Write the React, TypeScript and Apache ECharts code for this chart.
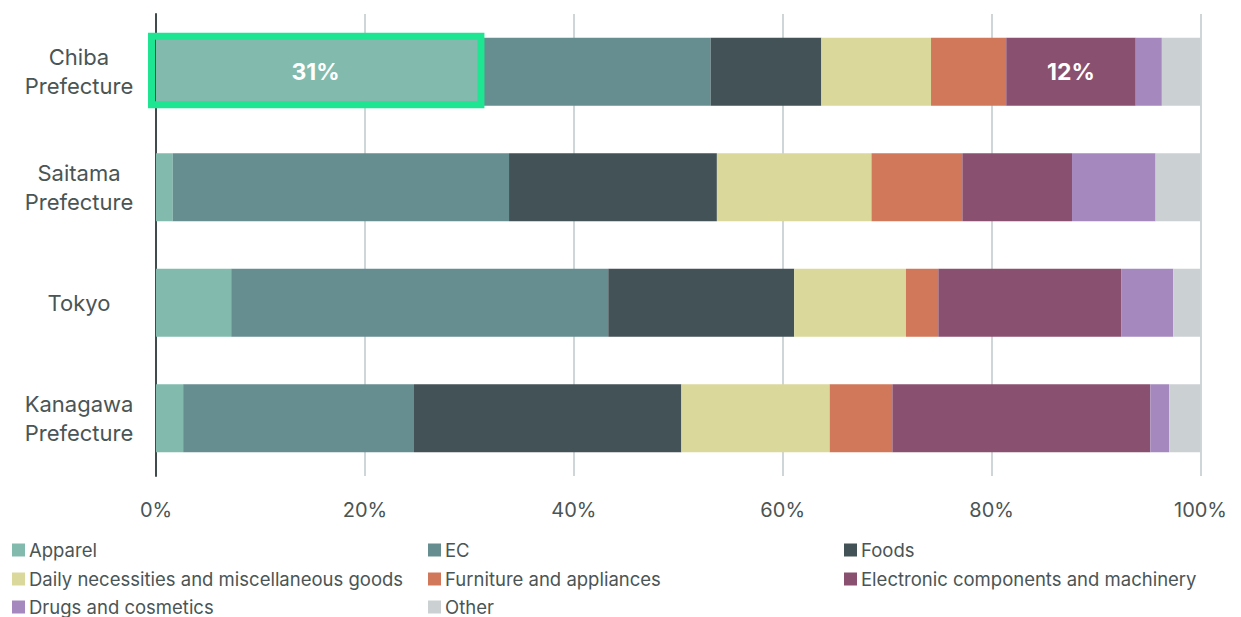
import React, { useEffect, useRef } from "react";
import * as echarts from "echarts";

const categories = ["Chiba Prefecture", "Saitama Prefecture", "Tokyo", "Kanagawa Prefecture"];
const seriesNames = [
  "Apparel",
  "EC",
  "Foods",
  "Daily necessities and miscellaneous goods",
  "Furniture and appliances",
  "Electronic components and machinery",
  "Drugs and cosmetics",
  "Other",
];
const apparel = [31.3, 1.6, 7.2, 2.6];
const ec = [21.8, 32.2, 36.1, 22.1];
const foods = [10.6, 19.9, 17.8, 25.6];
const daily = [10.5, 14.8, 10.7, 14.2];
const furniture = [7.2, 8.7, 3.1, 6.0];
const electronic = [12.4, 10.5, 17.5, 24.7];
const drugs = [2.5, 8.0, 5.0, 1.8];
const other = [3.7, 4.3, 2.6, 3.0];
const seriesValues = [apparel, ec, foods, daily, furniture, electronic, drugs, other];
const colors = ["#82bbad", "#668e91", "#435257", "#dbd89c", "#d2785a", "#8a5070", "#a488be", "#cbd1d3"];
// which (series, category) cells carry a value label
const labelled: [number, number][] = [
  [0, 0],
  [5, 0],
];
const xTicks = [0, 20, 40, 60, 80, 100];
// legend grid: [column, row] for each series
const legendCells: [number, number][] = [
  [0, 0],
  [1, 0],
  [2, 0],
  [0, 1],
  [1, 1],
  [2, 1],
  [0, 2],
  [1, 2],
];

const FONT = "Inter, 'Noto Sans', sans-serif";
const TEXT = "#4a5555";

export default function App() {
  const ref = useRef<HTMLDivElement>(null);
  useEffect(() => {
    if (!ref.current) return;
    const chart = echarts.init(ref.current, undefined, { renderer: "svg" });
    const series = seriesNames.map((name, si) => ({
      name,
      type: "bar",
      stack: "total",
      barWidth: 68,
      itemStyle: { color: colors[si] },
      data: seriesValues[si].map((v, ci) => {
        const lab = labelled.some(([s, c]) => s === si && c === ci);
        return lab
          ? {
              value: v,
              label: {
                show: true,
                position: "inside",
                offset: si === 0 ? [-4, 0] : [0, 0],
                formatter: (p: any) => Math.round(p.value) + "%",
                color: "#ffffff",
                fontSize: 23,
                fontWeight: "bold",
                fontFamily: FONT,
              },
            }
          : v;
      }),
    }));
    const colLefts = [12, 428, 844];
    const rowTops = [540, 569, 597];
    chart.setOption({
      animation: false,
      textStyle: { fontFamily: FONT },
      grid: { left: 156, right: 40.5, top: 14, bottom: 141, containLabel: false },
      legend: seriesNames.map((name, i) => ({
        data: [name],
        orient: "horizontal",
        left: colLefts[legendCells[i][0]],
        top: rowTops[legendCells[i][1]],
        padding: 0,
        itemWidth: 13,
        itemHeight: 13,
        itemGap: 0,
        icon: "rect",
        selectedMode: false,
        textStyle: { color: TEXT, fontSize: 18.5, fontFamily: FONT, lineHeight: 20, padding: [0, 0, 0, -1] },
      })),
      xAxis: {
        type: "value",
        min: 0,
        max: 100,
        interval: 20,
        axisLine: { show: false },
        axisTick: { show: false },
        splitLine: { show: true, lineStyle: { color: "#cfd6d8", width: 2 } },
        axisLabel: {
          color: TEXT,
          fontSize: 20,
          margin: 24,
          fontFamily: FONT,
          formatter: (v: number) => (xTicks.includes(v) ? v + "%" : ""),
        },
      },
      yAxis: {
        type: "category",
        inverse: true,
        data: categories,
        axisLine: { show: true, lineStyle: { color: "#3f4b4d", width: 2 } },
        axisTick: { show: false },
        axisLabel: {
          color: TEXT,
          fontSize: 22,
          lineHeight: 29,
          align: "center",
          margin: 77,
          fontFamily: FONT,
          formatter: (v: string) => v.replace(" ", "\n"),
        },
      },
      series,
    });
    // highlight box around Chiba apparel segment
    const x0 = chart.convertToPixel({ xAxisIndex: 0 }, 0) as number;
    const x1 = chart.convertToPixel({ xAxisIndex: 0 }, apparel[0]) as number;
    const yc = chart.convertToPixel({ yAxisIndex: 0 }, categories[0]) as number;
    chart.setOption({
      graphic: [
        {
          type: "rect",
          z: 100,
          shape: { x: x0 - 4.5, y: yc - 35.5, width: x1 - 2 - (x0 - 4.5), height: 68.5 },
          style: { fill: "none", stroke: "#1de592", lineWidth: 7 },
        },
      ],
    });
    return () => chart.dispose();
  }, []);
  return <div ref={ref} style={{ width: 1241, height: 617, position: "absolute", left: 0, top: 0 }} />;
}
